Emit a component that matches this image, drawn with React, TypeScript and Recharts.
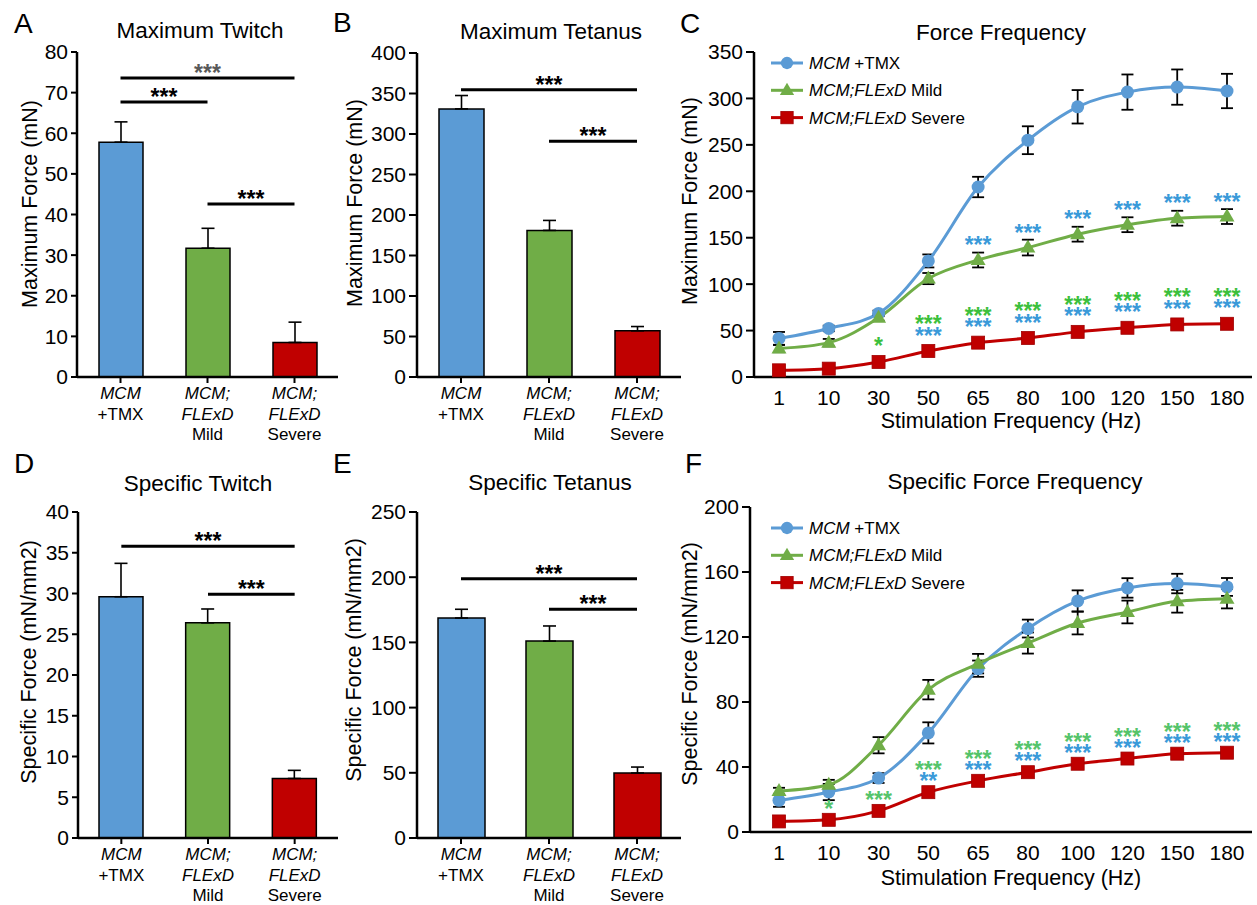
import React from 'react'
import {
  BarChart,
  Bar,
  Cell,
  LineChart,
  Line,
  XAxis,
  YAxis,
  ErrorBar,
  ReferenceLine,
  Legend,
} from 'recharts'

const FONT = 'Arial, "Liberation Sans", Helvetica, sans-serif'
const BLUE = '#5B9BD5'
const GREEN = '#70AD47'
const RED = '#C00000'
const STAR_BLUE = '#3A9AD9'
const STAR_GREEN = '#3CC03C'
const STAR_GREEN_F = '#55C46A'

// ---------- group bar panels (A, B, D, E) ----------
const groups = ['MCM +TMX', 'MCM;FLExD Mild', 'MCM;FLExD Severe']
// tick text per group, one entry per line: [text, italic]
const groupTickLines: [string, boolean][][] = [
  [['MCM', true], ['+TMX', false]],
  [['MCM;', true], ['FLExD', true], ['Mild', false]],
  [['MCM;', true], ['FLExD', true], ['Severe', false]],
]
const barColors = [BLUE, GREEN, RED]

const maxTwitch = [57.8, 31.7, 8.5]
const maxTwitchSem = [5.0, 4.9, 5.0]
const maxTetanus = [331, 181, 57]
const maxTetanusSem = [16.5, 12.3, 5.3]
const specTwitch = [29.6, 26.4, 7.3]
const specTwitchSem = [4.1, 1.7, 1.0]
const specTetanus = [168.7, 151, 49.8]
const specTetanusSem = [6.7, 11.6, 4.6]

type Sig = { from: number; to: number; y: number; color?: string }
const maxTwitchSig: Sig[] = [
  { from: 0, to: 2, y: 73.6, color: '#595959' },
  { from: 0, to: 1, y: 67.7 },
  { from: 1, to: 2, y: 42.6 },
]
const maxTetanusSig: Sig[] = [
  { from: 0, to: 2, y: 354.7 },
  { from: 1, to: 2, y: 291 },
]
const specTwitchSig: Sig[] = [
  { from: 0, to: 2, y: 35.8 },
  { from: 1, to: 2, y: 29.9 },
]
const specTetanusSig: Sig[] = [
  { from: 0, to: 2, y: 198.9 },
  { from: 1, to: 2, y: 175.4 },
]

const maxTwitchTicks = [0, 10, 20, 30, 40, 50, 60, 70, 80]
const maxTetanusTicks = [0, 50, 100, 150, 200, 250, 300, 350, 400]
const specTwitchTicks = [0, 5, 10, 15, 20, 25, 30, 35, 40]
const specTetanusTicks = [0, 50, 100, 150, 200, 250]

// ---------- frequency panels (C, F) ----------
const freqs = ['1', '10', '30', '50', '65', '80', '100', '120', '150', '180']

const forceTmx = [41.5, 52.3, 68.5, 125, 204.6, 255, 291, 306.8, 312.2, 308]
const forceTmxSem = [7, 3, 3, 7, 11, 15, 18, 19, 19, 18.5]
const forceMild = [30.7, 37, 63.7, 106, 126, 139.4, 153.8, 164, 171, 172.8]
const forceMildSem = [4, 4, 3, 6, 8, 8.5, 8, 8, 8, 8]
const forceSevere = [7.2, 9, 16.2, 28, 37, 42, 48.6, 53, 56.6, 57.3]
const forceSevereSem = [1.5, 1.5, 2, 2, 2, 2, 2, 2, 2, 2]
const forceTicks = [0, 50, 100, 150, 200, 250, 300, 350]

const specTmx = [19.5, 24.6, 33.2, 61, 100.5, 125.2, 142.2, 150.2, 152.9, 150.8]
const specTmxSem = [4, 5, 3, 6.5, 5, 5.5, 6.5, 6, 6, 5.5]
const specMild = [25.2, 29.1, 53.4, 87.6, 103.6, 116.3, 128.6, 135.4, 142, 143.6]
const specMildSem = [2, 3, 5, 6, 6, 6.5, 7, 7, 7, 6]
const specSevere = [6.5, 7.5, 13, 24.5, 31.5, 36.8, 42, 45.2, 48.2, 48.8]
const specSevereSem = [1, 1, 1.5, 1.5, 1.5, 1.5, 1.5, 1.5, 1.5, 1.5]
const specForceTicks = [0, 40, 80, 120, 160, 200]

// significance marks per frequency
const forceSevereVsMild = ['', '', '*', '***', '***', '***', '***', '***', '***', '***']
const forceSevereVsTmx = ['', '', '', '***', '***', '***', '***', '***', '***', '***']
const forceMildVsTmx = ['', '', '', '', '***', '***', '***', '***', '***', '***']
const specSevereVsMild = ['', '*', '***', '***', '***', '***', '***', '***', '***', '***']
const specSevereVsTmx = ['', '', '', '**', '***', '***', '***', '***', '***', '***']
const specMildVsTmx = ['', '', '', '', '', '', '', '', '', '']

type Shape = 'circle' | 'triangle' | 'square'

function Marker({ shape, cx, cy, color, s = 1 }: { shape: Shape; cx: number; cy: number; color: string; s?: number }) {
  if (shape === 'circle') return <circle cx={cx} cy={cy} r={6.5 * s} fill={color} />
  if (shape === 'triangle')
    return <path d={`M${cx},${cy - 8 * s}L${cx + 7.5 * s},${cy + 5 * s}L${cx - 7.5 * s},${cy + 5 * s}Z`} fill={color} />
  return <rect x={cx - 6.5 * s} y={cy - 6.5 * s} width={13 * s} height={13 * s} fill={color} stroke="#A00000" strokeWidth={0.8} />
}

const markerDot = (shape: Shape, color: string) => (p: any) =>
  p.cx == null || p.cy == null ? <g key={`m-${p.index}`} /> : (
    <Marker key={`m-${p.index}`} shape={shape} cx={p.cx} cy={p.cy} color={color} />
  )

// stacked asterisks above a point; first entry sits lowest, all rows share one text node
const starDot = (stacks: { marks: string[]; color: string }[], rowDy: number[]) => (p: any) => {
  const items = stacks.filter(s => s.marks[p.index])
  if (!items.length || p.cy == null) return <g key={`s-${p.index}`} />
  return (
    <text
      key={`s-${p.index}`}
      x={p.cx}
      y={p.cy + rowDy[0] + 13}
      textAnchor="middle"
      fontSize={23}
      fontWeight={700}
      fontFamily={FONT}
    >
      {items.map((s, k) => (
        <tspan key={k} x={p.cx} dy={k === 0 ? 0 : rowDy[k] - rowDy[k - 1]} fill={s.color}>
          {s.marks[p.index]}
        </tspan>
      ))}
    </text>
  )
}

function GroupTick({ x, y, payload }: any) {
  const lines = groupTickLines[groups.indexOf(payload.value)] ?? []
  return (
    <text x={x} y={y} textAnchor="middle" fontSize={17} fontFamily={FONT} fill="#000">
      {lines.map(([t, it], i) => (
        <tspan key={i} x={x} dy={i === 0 ? 14 : 20.5} fontStyle={it ? 'italic' : 'normal'}>
          {t}
        </tspan>
      ))}
    </text>
  )
}

type Box = {
  left: number
  top: number
  width: number
  height: number
  plotTop: number
  yAxisWidth: number
  right: number
  xAxisHeight: number
  tickSize: number
}

const axisLine = { stroke: '#000', strokeWidth: 2.5 }
const tickLine = { stroke: '#000', strokeWidth: 2 }
const yTick = { fontSize: 21, fill: '#000', fontFamily: FONT }

function BarPanel({ box, values, sem, sigs, ticks, barSize }: {
  box: Box; values: number[]; sem: number[]; sigs: Sig[]; ticks: number[]; barSize: number
}) {
  const data = groups.map((g, i) => ({ group: g, value: values[i], err: [0, sem[i]] }))
  return (
    <div style={{ position: 'absolute', left: box.left, top: box.top }}>
      <BarChart
        width={box.width}
        height={box.height}
        data={data}
        margin={{ top: box.plotTop, right: box.right, bottom: 0, left: 0 }}
      >
        <XAxis
          dataKey="group"
          height={box.xAxisHeight}
          interval={0}
          tick={<GroupTick />}
          tickSize={6}
          tickMargin={2}
          axisLine={axisLine}
          tickLine={tickLine}
        />
        <YAxis
          width={box.yAxisWidth}
          domain={[0, ticks[ticks.length - 1]]}
          ticks={ticks}
          interval={0}
          tickSize={box.tickSize}
          tickMargin={3}
          tick={yTick}
          axisLine={axisLine}
          tickLine={tickLine}
        />
        <Bar dataKey="value" barSize={barSize} stroke="#000" strokeWidth={1.5} isAnimationActive={false}>
          {data.map((d, i) => (
            <Cell key={d.group} fill={barColors[i]} />
          ))}
          <ErrorBar dataKey="err" width={6.5} stroke="#000" strokeWidth={1.6} direction="y" />
        </Bar>
        {sigs.map((s, i) => (
          <ReferenceLine
            key={i}
            segment={[
              { x: groups[s.from], y: s.y },
              { x: groups[s.to], y: s.y },
            ]}
            stroke="#000"
            strokeWidth={3}
            ifOverflow="visible"
            label={{
              value: '***',
              position: 'top',
              offset: -3,
              fill: s.color ?? '#000',
              fontSize: 23,
              fontWeight: 700,
              fontFamily: FONT,
            }}
          />
        ))}
      </BarChart>
    </div>
  )
}

const legendRows: { italic: string; rest: string; color: string; shape: Shape }[] = [
  { italic: 'MCM', rest: ' +TMX', color: BLUE, shape: 'circle' },
  { italic: 'MCM;FLExD', rest: ' Mild', color: GREEN, shape: 'triangle' },
  { italic: 'MCM;FLExD', rest: ' Severe', color: RED, shape: 'square' },
]

function SeriesLegend() {
  return (
    <svg width={240} height={86} style={{ display: 'block', overflow: 'visible' }}>
      {legendRows.map((r, i) => {
        const y = 14 + i * 27.3
        return (
          <g key={i}>
            <line x1={2} x2={34} y1={y} y2={y} stroke={r.color} strokeWidth={3} />
            <Marker shape={r.shape} cx={18} cy={y} color={r.color} s={0.95} />
            <text x={40} y={y + 6} fontSize={17} fontFamily={FONT} fill="#000">
              <tspan fontStyle="italic">{r.italic}</tspan>
              <tspan>{r.rest}</tspan>
            </text>
          </g>
        )
      })}
    </svg>
  )
}

function FreqPanel({ box, tmx, tmxSem, mild, mildSem, severe, severeSem, ticks, xPad, severeVsMild, severeVsTmx, mildVsTmx, greenStar, rowDy }: {
  box: Box
  tmx: number[]; tmxSem: number[]
  mild: number[]; mildSem: number[]
  severe: number[]; severeSem: number[]
  ticks: number[]
  xPad: { left: number; right: number }
  severeVsMild: string[]; severeVsTmx: string[]; mildVsTmx: string[]
  greenStar: string
  rowDy: number[]
}) {
  const data = freqs.map((f, i) => ({
    f,
    tmx: tmx[i],
    tmxErr: tmxSem[i],
    mild: mild[i],
    mildErr: mildSem[i],
    severe: severe[i],
    severeErr: severeSem[i],
  }))
  return (
    <div style={{ position: 'absolute', left: box.left, top: box.top }}>
      <LineChart
        width={box.width}
        height={box.height}
        data={data}
        margin={{ top: box.plotTop, right: box.right, bottom: 0, left: 0 }}
      >
        <XAxis
          dataKey="f"
          height={box.xAxisHeight}
          interval={0}
          padding={xPad}
          tickLine={false}
          tickSize={6}
          tickMargin={7}
          tick={{ fontSize: 21, fill: '#000', fontFamily: FONT }}
          axisLine={axisLine}
        />
        <YAxis
          width={box.yAxisWidth}
          domain={[0, ticks[ticks.length - 1]]}
          ticks={ticks}
          interval={0}
          tickSize={box.tickSize}
          tickMargin={3}
          tick={yTick}
          axisLine={axisLine}
          tickLine={tickLine}
        />
        <Legend
          layout="horizontal"
          verticalAlign="middle"
          align="center"
          wrapperStyle={{ left: 89, top: box.top === 0 ? 49 : 64, width: 'auto' }}
          content={() => <SeriesLegend />}
        />
        <Line dataKey="tmx" type="monotone" stroke={BLUE} strokeWidth={3} dot={markerDot('circle', BLUE)} activeDot={false} isAnimationActive={false}>
          <ErrorBar dataKey="tmxErr" width={6} stroke="#000" strokeWidth={1.8} direction="y" />
        </Line>
        <Line dataKey="mild" type="monotone" stroke={GREEN} strokeWidth={3} dot={markerDot('triangle', GREEN)} activeDot={false} isAnimationActive={false}>
          <ErrorBar dataKey="mildErr" width={6} stroke="#000" strokeWidth={1.8} direction="y" />
        </Line>
        <Line dataKey="severe" type="monotone" stroke={RED} strokeWidth={3} dot={markerDot('square', RED)} activeDot={false} isAnimationActive={false}>
          <ErrorBar dataKey="severeErr" width={6} stroke="#000" strokeWidth={1.8} direction="y" />
        </Line>
        <Line
          dataKey="severe"
          stroke="none"
          legendType="none"
          dot={starDot(
            [
              { marks: severeVsTmx, color: STAR_BLUE },
              { marks: severeVsMild, color: greenStar },
            ],
            rowDy,
          )}
          activeDot={false}
          isAnimationActive={false}
        />
        <Line
          dataKey="mild"
          stroke="none"
          legendType="none"
          dot={starDot([{ marks: mildVsTmx, color: STAR_BLUE }], [-20])}
          activeDot={false}
          isAnimationActive={false}
        />
      </LineChart>
    </div>
  )
}

const boxA: Box = { left: 0, top: 0, width: 345, height: 450, plotTop: 52, yAxisWidth: 77, right: 7, xAxisHeight: 73, tickSize: 6 }
const boxB: Box = { left: 340, top: 0, width: 345, height: 450, plotTop: 53, yAxisWidth: 77, right: 4, xAxisHeight: 73, tickSize: 8 }
const boxC: Box = { left: 680, top: 0, width: 577, height: 450, plotTop: 52, yAxisWidth: 74, right: 5, xAxisHeight: 73, tickSize: 8 }
const boxD: Box = { left: 0, top: 450, width: 345, height: 455, plotTop: 62, yAxisWidth: 78, right: 7, xAxisHeight: 67, tickSize: 6 }
const boxE: Box = { left: 340, top: 450, width: 345, height: 455, plotTop: 62, yAxisWidth: 77, right: 4, xAxisHeight: 67, tickSize: 8 }
const boxF: Box = { left: 680, top: 450, width: 577, height: 455, plotTop: 57, yAxisWidth: 70, right: 5, xAxisHeight: 73, tickSize: 8 }

const panelLetters: [string, number, number][] = [
  ['A', 14, 33],
  ['B', 333, 32],
  ['C', 680, 33],
  ['D', 14, 473],
  ['E', 333, 473],
  ['F', 685, 473],
]
const panelTitles: [string, number, number][] = [
  ['Maximum Twitch', 200, 38],
  ['Maximum Tetanus', 551, 39],
  ['Force Frequency', 1001, 40],
  ['Specific Twitch', 198, 491],
  ['Specific Tetanus', 550, 490],
  ['Specific Force Frequency', 1015, 489],
]
const yTitles: [string, number, number][] = [
  ['Maximum Force (mN)', 37, 204],
  ['Maximum Force (mN)', 362, 203],
  ['Maximum Force (mN)', 697, 201],
  ['Specific Force (mN/mm2)', 36, 662],
  ['Specific Force (mN/mm2)', 361, 660],
  ['Specific Force (mN/mm2)', 697, 664],
]
const xTitles: [string, number, number][] = [
  ['Stimulation Frequency (Hz)', 1011, 428],
  ['Stimulation Frequency (Hz)', 1011, 885],
]

export default function App() {
  return (
    <div style={{ position: 'absolute', left: 0, top: 0, width: 1257, height: 905, background: '#fff', fontFamily: FONT }}>
      <BarPanel box={boxA} values={maxTwitch} sem={maxTwitchSem} sigs={maxTwitchSig} ticks={maxTwitchTicks} barSize={44} />
      <BarPanel box={boxB} values={maxTetanus} sem={maxTetanusSem} sigs={maxTetanusSig} ticks={maxTetanusTicks} barSize={45} />
      <BarPanel box={boxD} values={specTwitch} sem={specTwitchSem} sigs={specTwitchSig} ticks={specTwitchTicks} barSize={44} />
      <BarPanel box={boxE} values={specTetanus} sem={specTetanusSem} sigs={specTetanusSig} ticks={specTetanusTicks} barSize={47} />
      <FreqPanel
        box={boxC}
        tmx={forceTmx} tmxSem={forceTmxSem}
        mild={forceMild} mildSem={forceMildSem}
        severe={forceSevere} severeSem={forceSevereSem}
        ticks={forceTicks}
        xPad={{ left: 25, right: 25 }}
        severeVsMild={forceSevereVsMild}
        severeVsTmx={forceSevereVsTmx}
        mildVsTmx={forceMildVsTmx}
        greenStar={STAR_GREEN}
        rowDy={[-20.5, -32]}
      />
      <FreqPanel
        box={boxF}
        tmx={specTmx} tmxSem={specTmxSem}
        mild={specMild} mildSem={specMildSem}
        severe={specSevere} severeSem={specSevereSem}
        ticks={specForceTicks}
        xPad={{ left: 29, right: 25 }}
        severeVsMild={specSevereVsMild}
        severeVsTmx={specSevereVsTmx}
        mildVsTmx={specMildVsTmx}
        greenStar={STAR_GREEN_F}
        rowDy={[-16, -27]}
      />
      <svg width={1257} height={905} style={{ position: 'absolute', left: 0, top: 0, pointerEvents: 'none' }}>
        <g fontFamily={FONT} fill="#000">
          {panelLetters.map(([t, x, y]) => (
            <text key={t} x={x} y={y} fontSize={28}>{t}</text>
          ))}
          {panelTitles.map(([t, x, y]) => (
            <text key={t} x={x} y={y} fontSize={22.5} textAnchor="middle">{t}</text>
          ))}
          {yTitles.map(([t, x, y], i) => (
            <text key={i} transform={`translate(${x},${y}) rotate(-90)`} fontSize={21.5} textAnchor="middle">{t}</text>
          ))}
          {xTitles.map(([t, x, y], i) => (
            <text key={i} x={x} y={y} fontSize={21.5} textAnchor="middle">{t}</text>
          ))}
        </g>
      </svg>
    </div>
  )
}
